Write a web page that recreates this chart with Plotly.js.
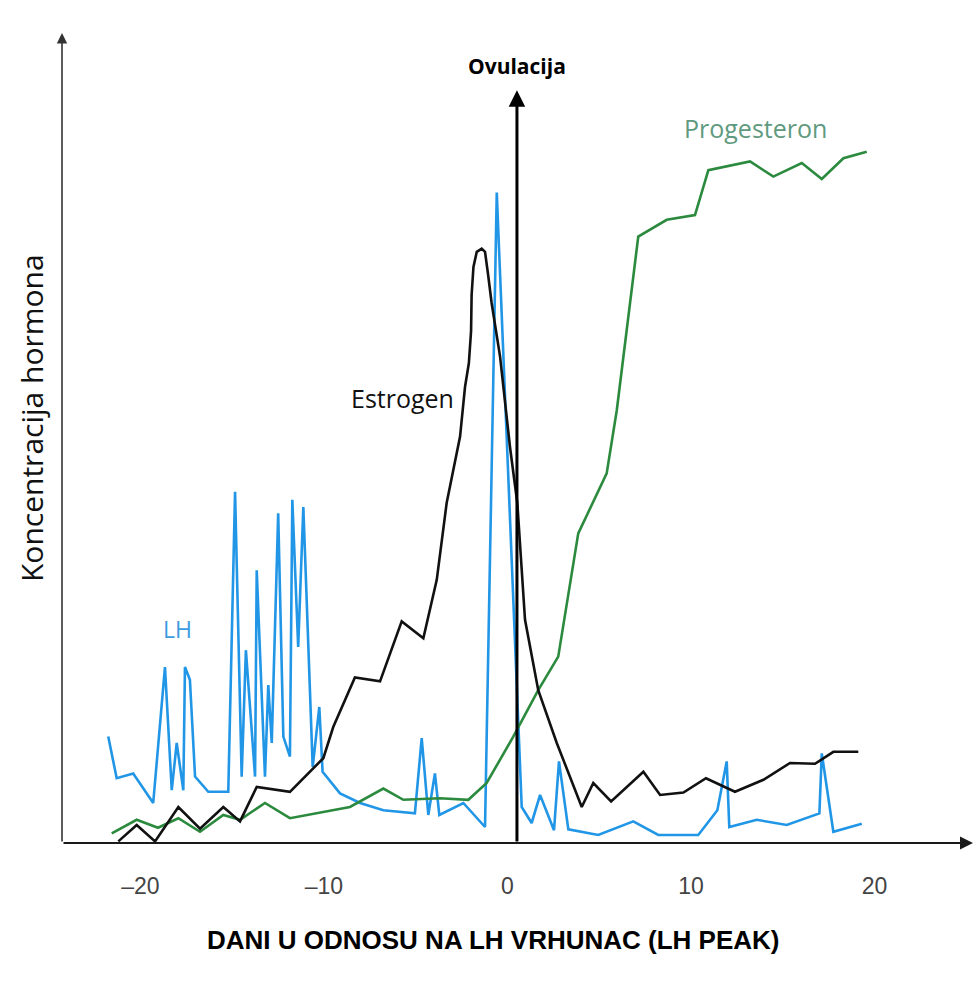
<!DOCTYPE html>
<html>
<head>
<meta charset="utf-8">
<script src="https://cdn.plot.ly/plotly-3.0.1.min.js"></script>
<style>html,body{margin:0;padding:0;background:#fff;}#chart{width:977px;height:981px;}</style>
</head>
<body>
<div id="chart"></div>
<script>
// Days relative to LH peak (x) and hormone concentration in arbitrary units (y)
const lhDays = [-21.75,-21.29,-20.39,-19.30,-18.66,-18.29,-18.02,-17.66,-17.57,-17.30,-17.02,-16.30,-15.21,-14.84,-14.48,-14.25,-13.75,-13.66,-13.21,-13.03,-12.84,-12.49,-12.21,-11.85,-11.72,-11.40,-11.12,-10.61,-10.25,-10.07,-9.12,-8.03,-6.76,-5.04,-4.67,-4.31,-3.95,-3.71,-2.40,-1.22,-0.58,0.78,1.32,1.78,2.54,2.81,3.32,4.95,6.86,8.22,10.40,11.44,11.95,12.09,13.59,15.22,17.00,17.13,17.76,19.31];
const lhValues = [13.3,8.1,8.7,5.0,22.0,6.6,12.5,6.6,22.0,20.4,8.3,6.4,6.4,43.9,8.3,24.1,8.3,34.1,8.3,19.75,12.5,41.2,13.3,10.8,42.9,24.5,42.0,9.5,17.0,8.9,6.2,5.0,4.1,3.7,13.1,3.5,8.7,3.5,5.0,2.0,81.3,4.5,2.5,6.0,1.6,10.2,1.7,1.0,2.7,1.0,1.0,4.1,10.2,2.0,2.9,2.25,3.7,11.2,1.4,2.4];

const estrogenDays = [-21.20,-20.20,-19.20,-17.93,-16.75,-15.48,-14.57,-13.66,-11.85,-10.66,-10.03,-9.49,-8.31,-6.94,-5.76,-4.58,-3.85,-3.31,-2.58,-2.31,-2.10,-1.98,-1.95,-1.85,-1.67,-1.40,-1.22,-1.05,-0.86,-0.40,0.14,0.54,0.96,1.68,2.69,4.05,4.68,5.65,7.41,8.32,9.59,10.82,12.40,13.95,15.40,16.76,17.76,19.12];
const estrogenValues = [0.2,2.25,0.2,4.5,1.8,4.5,2.7,7.0,6.4,9.1,10.6,14.5,20.7,20.2,27.7,25.6,32.9,42.5,50.8,57.0,60.0,64.0,68.5,72.0,73.9,74.3,73.9,71.0,67.5,60.8,49.5,42.5,27.9,19.1,12.5,4.5,7.5,5.2,8.9,6.0,6.3,8.1,6.4,7.9,10.0,9.9,11.4,11.4];

const progesteronDays = [-21.56,-20.20,-19.04,-17.93,-16.75,-15.48,-14.57,-13.21,-11.85,-8.58,-6.76,-5.67,-3.67,-2.13,-1.13,0.32,1.68,2.77,3.86,5.41,5.96,7.13,8.68,10.22,10.95,13.22,14.49,16.04,17.13,18.31,19.58];
const progesteronValues = [1.2,2.9,1.9,3.1,1.4,3.5,2.9,5.0,3.1,4.5,6.8,5.4,5.6,5.4,7.5,13.3,19.1,23.3,38.7,46.2,54.1,75.8,77.9,78.5,84.1,85.2,83.3,85.0,83.0,85.6,86.4];

const tickValues = [-20, -10, 0, 10, 20];
const tickLabels = ['–20', '–10', '0', '10', '20'];
const ovulationDay = 0.52;

const xRange = [-24.27, 25.37];
const yRange = [0, 101.25];

const traces = [
  {x: lhDays, y: lhValues, type: 'scatter', mode: 'lines', name: 'LH',
   line: {color: '#2196e6', width: 2.6}},
  {x: progesteronDays, y: progesteronValues, type: 'scatter', mode: 'lines', name: 'Progesteron',
   line: {color: '#2b8a3e', width: 2.6}},
  {x: estrogenDays, y: estrogenValues, type: 'scatter', mode: 'lines', name: 'Estrogen',
   line: {color: '#111111', width: 2.6}}
];

const layout = {
  width: 977, height: 981,
  margin: {l: 62, r: 4, t: 33, b: 138},
  paper_bgcolor: '#ffffff', plot_bgcolor: '#ffffff',
  showlegend: false,
  xaxis: {
    range: xRange, showgrid: false, zeroline: false, showline: false,
    tickvals: tickValues, ticktext: tickLabels,
    ticks: 'outside', ticklen: 22, tickcolor: 'rgba(0,0,0,0)',
    tickfont: {family: 'Liberation Sans Narrow, Arial Narrow, sans-serif', size: 23, color: '#444444'},
    fixedrange: true
  },
  yaxis: {
    range: yRange, showgrid: false, zeroline: false, showline: false,
    showticklabels: false, ticks: '', fixedrange: true
  },
  annotations: [
    // x axis with arrow
    {xref: 'paper', yref: 'paper', x: 1, y: 0, ax: -911, ay: 0, axref: 'pixel', ayref: 'pixel',
     text: '', showarrow: true, arrowhead: 2, arrowsize: 1.3, arrowwidth: 2, arrowcolor: '#1a1a1a'},
    // y axis with arrow
    {xref: 'paper', yref: 'paper', x: 0, y: 1, ax: 0, ay: 810, axref: 'pixel', ayref: 'pixel',
     text: '', showarrow: true, arrowhead: 2, arrowsize: 1.3, arrowwidth: 1.6, arrowcolor: '#333333'},
    // ovulation line
    {xref: 'x', yref: 'y', x: ovulationDay, y: 94.1, axref: 'x', ayref: 'y', ax: ovulationDay, ay: 0,
     text: '', showarrow: true, arrowhead: 2, arrowsize: 1.1, arrowwidth: 3, arrowcolor: '#000000'},
    {xref: 'x', yref: 'paper', x: ovulationDay, y: (843 - 66) / 810, yanchor: 'middle', xanchor: 'center',
     text: '<b>Ovulacija</b>', showarrow: false,
     font: {family: 'Open Sans, sans-serif', size: 21, color: '#000000'}},
    {xref: 'x', yref: 'y', x: -18.0, y: 26.8, text: 'LH', showarrow: false,
     font: {family: 'Open Sans, sans-serif', size: 23, color: '#3d9be0'}},
    {xref: 'x', yref: 'y', x: -5.74, y: 55.6, text: 'Estrogen', showarrow: false,
     font: {family: 'Open Sans, sans-serif', size: 25, color: '#111111'}},
    {xref: 'x', yref: 'y', x: 13.5, y: 89.4, text: 'Progesteron', showarrow: false,
     font: {family: 'Open Sans, sans-serif', size: 25, color: '#5f9a80'}},
    {xref: 'paper', yref: 'paper', x: -31 / 911, y: (843 - 418) / 810, textangle: -90,
     xanchor: 'center', yanchor: 'middle', text: 'Koncentracija hormona', showarrow: false,
     font: {family: 'Open Sans, sans-serif', size: 30, color: '#111111'}},
    {xref: 'paper', yref: 'paper', x: (493 - 62) / 911, y: (843 - 940) / 810,
     xanchor: 'center', yanchor: 'middle', text: '<b>DANI U ODNOSU NA LH VRHUNAC (LH PEAK)</b>', showarrow: false,
     font: {family: 'Liberation Sans Narrow, Arial Narrow, sans-serif', size: 26, color: '#000000'}}
  ]
};

Plotly.newPlot('chart', traces, layout, {displayModeBar: false, staticPlot: true});
</script>
</body>
</html>
